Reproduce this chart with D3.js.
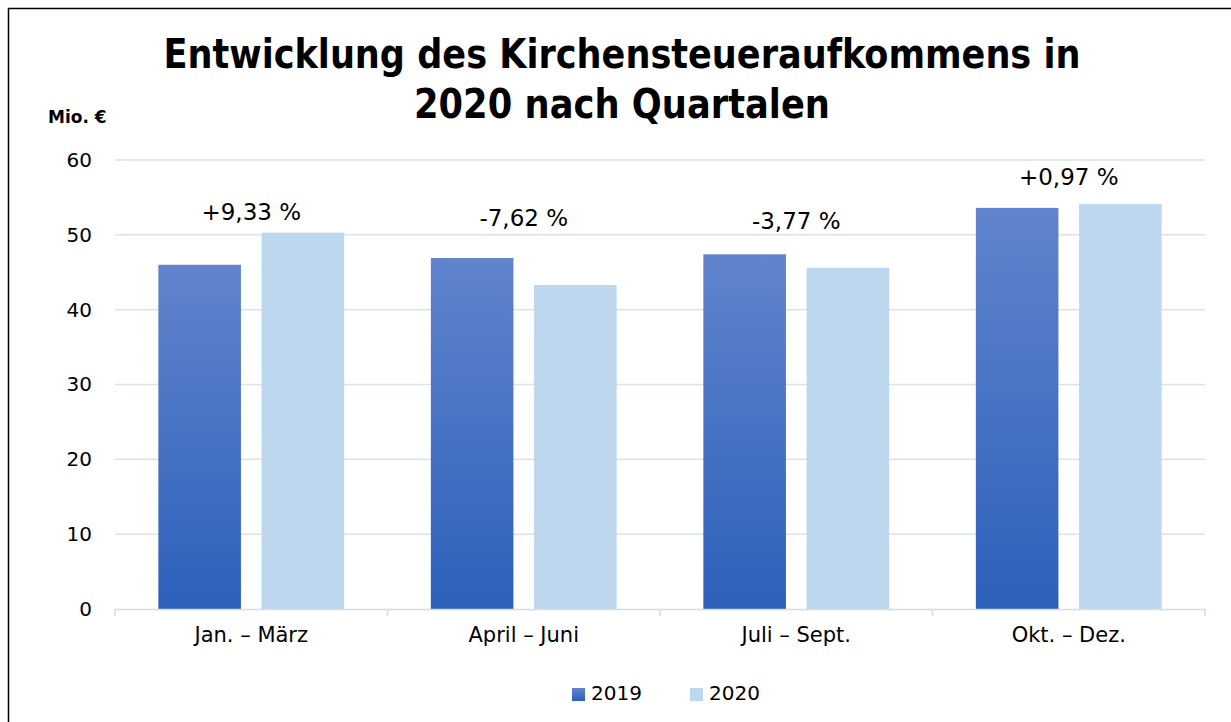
<!DOCTYPE html>
<html>
<head>
<meta charset="utf-8">
<script src="https://cdn.jsdelivr.net/npm/d3@7"></script>
<style>
  body { margin: 0; background: #fff; }
  text { font-family: "DejaVu Sans", sans-serif; }
</style>
</head>
<body>
<div id="chart"></div>
<script>
// Data
const quarters = ['Jan. – März', 'April – Juni', 'Juli – Sept.', 'Okt. – Dez.'];
const years = ['2019', '2020'];
const values2019 = [46.0, 46.9, 47.4, 53.6];
const values2020 = [50.3, 43.3, 45.6, 54.1];
const changeLabels = ['+9,33 %', '-7,62 %', '-3,77 %', '+0,97 %'];
// where the change labels sit, in Mio. €
const labelAt = [52.0, 51.2, 50.8, 56.6];
const yTicks = [0, 10, 20, 30, 40, 50, 60];

const width = 1231;
const height = 722;
const margin = { top: 160, right: 26, bottom: 113, left: 115 };

const svg = d3.select('#chart').append('svg')
    .attr('width', width)
    .attr('height', height);

// outer frame (runs off the right and bottom edge)
svg.append('rect')
    .attr('x', 8.5).attr('y', 8.5)
    .attr('width', 1240).attr('height', 730)
    .attr('fill', 'none')
    .attr('stroke', '#000')
    .attr('stroke-width', 1.5);

// gradient for 2019 bars
const grad = svg.append('defs').append('linearGradient')
    .attr('id', 'blue19')
    .attr('x1', 0).attr('y1', 0).attr('x2', 0).attr('y2', 1);
grad.append('stop').attr('offset', '0%').attr('stop-color', '#6184cc');
grad.append('stop').attr('offset', '100%').attr('stop-color', '#2d60bb');

const x0 = d3.scaleBand()
    .domain(quarters)
    .range([margin.left, width - margin.right])
    .paddingInner(0)
    .paddingOuter(0);

const x1 = d3.scaleBand()
    .domain(years)
    .range([0, x0.bandwidth()])
    .paddingInner(0.2)
    .paddingOuter(0.42);

const y = d3.scaleLinear()
    .domain([0, 60])
    .range([height - margin.bottom, margin.top]);

// gridlines
svg.append('g')
    .selectAll('line')
    .data(yTicks.filter(d => d > 0))
    .join('line')
    .attr('x1', margin.left)
    .attr('x2', width - margin.right)
    .attr('y1', d => y(d))
    .attr('y2', d => y(d))
    .attr('stroke', '#dde2ea')
    .attr('stroke-width', 1.5);

// y axis labels
const yAxis = d3.axisLeft(y).tickValues(yTicks).tickSize(0).tickPadding(23);
svg.append('g')
    .attr('transform', `translate(${margin.left},0)`)
    .call(yAxis)
    .call(g => g.select('.domain').remove())
    .call(g => g.selectAll('text')
        .attr('font-size', 20)
        .attr('fill', '#000')
        .attr('font-family', '"DejaVu Sans", sans-serif'));

// bars
const groups = svg.append('g')
    .selectAll('g')
    .data(quarters)
    .join('g')
    .attr('transform', d => `translate(${x0(d)},0)`);

groups.append('rect')
    .attr('x', x1('2019'))
    .attr('y', (d, i) => y(values2019[i]))
    .attr('width', x1.bandwidth())
    .attr('height', (d, i) => y(0) - y(values2019[i]))
    .attr('fill', 'url(#blue19)');

groups.append('rect')
    .attr('x', x1('2020'))
    .attr('y', (d, i) => y(values2020[i]))
    .attr('width', x1.bandwidth())
    .attr('height', (d, i) => y(0) - y(values2020[i]))
    .attr('fill', '#bdd7ee');

// change labels
groups.append('text')
    .attr('x', x0.bandwidth() / 2)
    .attr('y', (d, i) => y(labelAt[i]))
    .attr('text-anchor', 'middle')
    .attr('font-size', 23)
    .attr('fill', '#000')
    .text((d, i) => changeLabels[i]);

// x axis
const xAxis = d3.axisBottom(x0).tickSize(0).tickPadding(18);
const xg = svg.append('g')
    .attr('transform', `translate(0,${y(0)})`)
    .call(xAxis);
xg.select('.domain').attr('stroke', '#d5dae4').attr('stroke-width', 1.5);
xg.selectAll('text')
    .attr('font-size', 21)
    .attr('fill', '#000')
    .attr('font-family', '"DejaVu Sans", sans-serif');
xg.selectAll('.sep')
    .data(d3.range(quarters.length + 1))
    .join('line')
    .attr('x1', i => margin.left + i * x0.bandwidth())
    .attr('x2', i => margin.left + i * x0.bandwidth())
    .attr('y1', 0).attr('y2', 7)
    .attr('stroke', '#d5dae4')
    .attr('stroke-width', 1.5);

// title (DejaVu is wider than the original face, so squeeze it a bit)
const title = svg.append('text')
    .attr('text-anchor', 'middle')
    .attr('font-size', 41)
    .attr('font-weight', 'bold')
    .attr('fill', '#000');
title.append('tspan').attr('x', 622).attr('y', 68)
    .attr('textLength', 917).attr('lengthAdjust', 'spacingAndGlyphs')
    .text('Entwicklung des Kirchensteueraufkommens in');
title.append('tspan').attr('x', 622).attr('y', 118)
    .attr('textLength', 416).attr('lengthAdjust', 'spacingAndGlyphs')
    .text('2020 nach Quartalen');

// unit label
svg.append('text')
    .attr('x', 48).attr('y', 123)
    .attr('font-size', 17)
    .attr('font-weight', 'bold')
    .attr('fill', '#000')
    .text('Mio. €');

// legend
const legend = svg.append('g').selectAll('g')
    .data(years)
    .join('g')
    .attr('transform', (d, i) => `translate(${572 + i * 118},688)`);
legend.append('rect')
    .attr('width', 13).attr('height', 13)
    .attr('fill', (d, i) => i === 0 ? 'url(#blue19)' : '#bdd7ee');
legend.append('text')
    .attr('x', 19).attr('y', 12)
    .attr('font-size', 20)
    .attr('fill', '#000')
    .text(d => d);
</script>
</body>
</html>
